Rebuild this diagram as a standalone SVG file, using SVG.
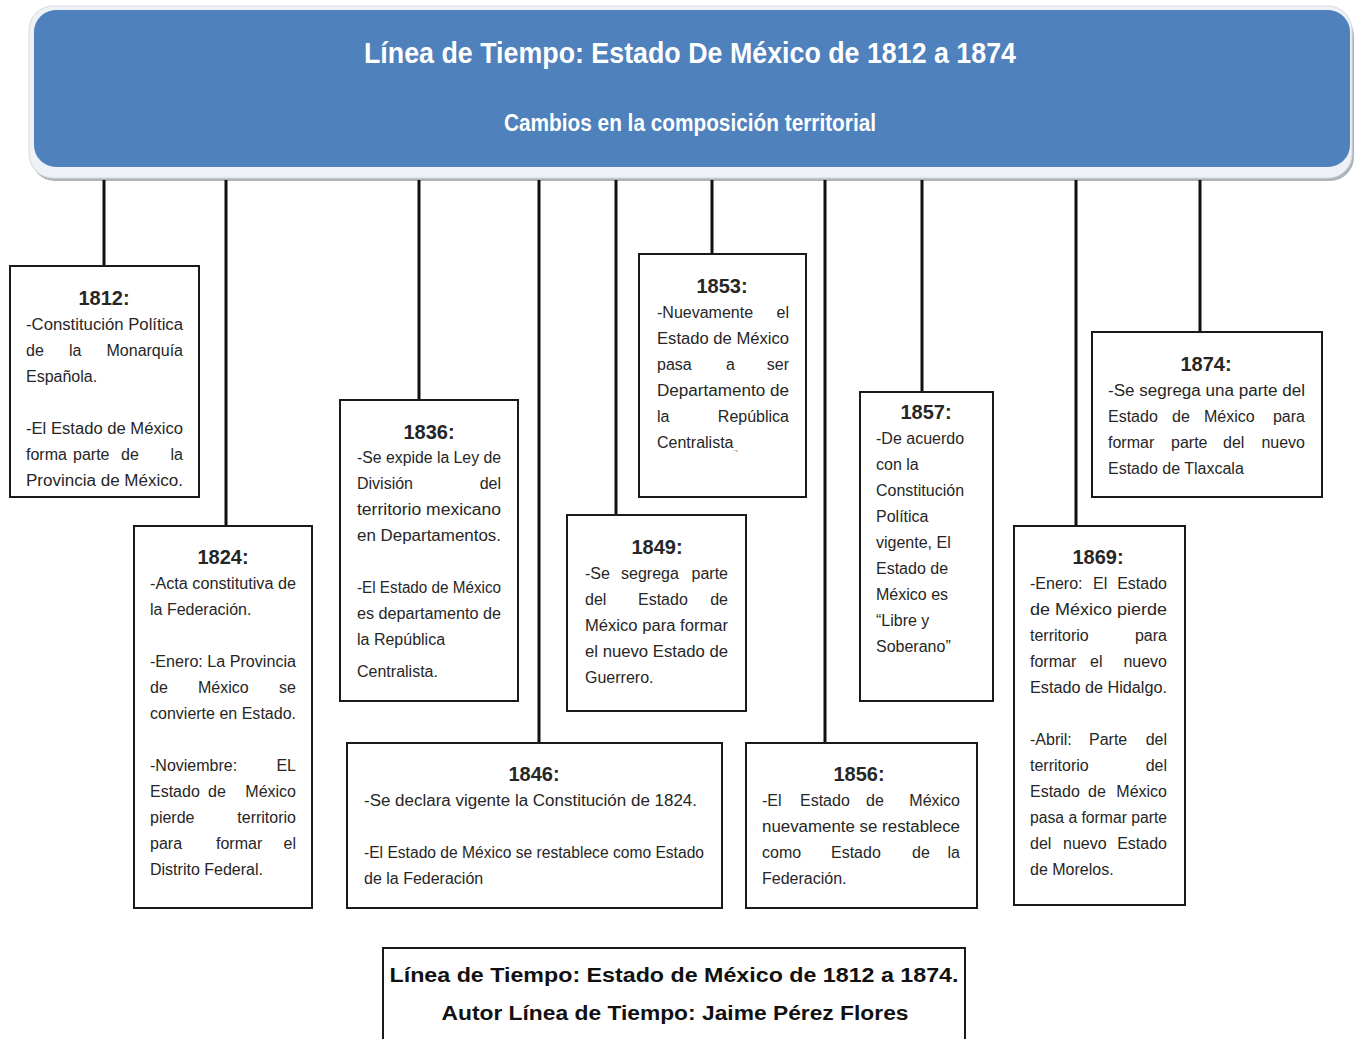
<svg xmlns="http://www.w3.org/2000/svg" width="1361" height="1039" viewBox="0 0 1361 1039">
<style>
.bx{fill:#fff;stroke:#1a1a1a;stroke-width:2}
.t{font-family:"Liberation Sans",Arial,sans-serif;font-size:16px;fill:#262626}
.e{text-anchor:end}
.y{font-family:"Liberation Sans",Arial,sans-serif;font-size:20px;font-weight:bold;fill:#262626;text-anchor:middle}
.f{font-family:"Liberation Sans",Arial,sans-serif;font-size:20px;font-weight:bold;fill:#111;text-anchor:middle}
.h{font-family:"Liberation Sans",Arial,sans-serif;fill:#fff;text-anchor:middle;font-weight:bold}
#connectors line{stroke:#111;stroke-width:3}
</style>
<rect width="1361" height="1039" fill="#fff"/>
<g id="header">
<rect x="31" y="12" width="1323" height="169" rx="24" fill="#aeb4bc"/>
<rect x="29" y="6" width="1323" height="172" rx="24" fill="#eef1f5" stroke="#d6dbe2"/>
<rect x="34" y="10" width="1316" height="157" rx="22" fill="#4f81bd"/>
<text class="h" x="690" y="63" font-size="30" textLength="652" lengthAdjust="spacingAndGlyphs">Línea de Tiempo: Estado De México de 1812 a 1874</text>
<text class="h" x="690" y="131" font-size="23" textLength="372" lengthAdjust="spacingAndGlyphs">Cambios en la composición territorial</text>
</g>
<g id="connectors">
<line x1="104" y1="180" x2="104" y2="266"/>
<line x1="226" y1="180" x2="226" y2="526"/>
<line x1="419" y1="180" x2="419" y2="400"/>
<line x1="539" y1="180" x2="539" y2="743"/>
<line x1="616" y1="180" x2="616" y2="524"/>
<line x1="712" y1="180" x2="712" y2="254"/>
<line x1="825" y1="180" x2="825" y2="743"/>
<line x1="922" y1="180" x2="922" y2="392"/>
<line x1="1076" y1="180" x2="1076" y2="526"/>
<line x1="1200" y1="180" x2="1200" y2="332"/>
</g>
<g id="n1812">
<rect class="bx" x="10" y="266" width="189" height="231"/>
<text class="y" x="104" y="305">1812:</text>
<text class="t" x="26" y="330" textLength="157" lengthAdjust="spacingAndGlyphs">-Constitución Política</text>
<text class="t" x="26" y="356">de</text><text class="t" x="69" y="356">la</text><text class="t e" x="183" y="356">Monarquía</text>
<text class="t" x="26" y="382">Española.</text>
<text class="t" x="26" y="434" textLength="157" lengthAdjust="spacingAndGlyphs">-El Estado de México</text>
<text class="t" x="26" y="460">forma</text><text class="t" x="73" y="460">parte</text><text class="t" x="121" y="460">de</text><text class="t e" x="183" y="460">la</text>
<text class="t" x="26" y="486" textLength="157" lengthAdjust="spacingAndGlyphs">Provincia de México.</text>
</g>
<g id="n1824">
<rect class="bx" x="134" y="526" width="178" height="382"/>
<text class="y" x="223" y="564">1824:</text>
<text class="t" x="150" y="589" textLength="146" lengthAdjust="spacingAndGlyphs">-Acta constitutiva de</text>
<text class="t" x="150" y="615">la Federación.</text>
<text class="t" x="150" y="667" textLength="146" lengthAdjust="spacingAndGlyphs">-Enero: La Provincia</text>
<text class="t" x="150" y="693">de</text><text class="t" x="198" y="693">México</text><text class="t e" x="296" y="693">se</text>
<text class="t" x="150" y="719" textLength="146" lengthAdjust="spacingAndGlyphs">convierte en Estado.</text>
<text class="t" x="150" y="771">-Noviembre:</text><text class="t e" x="296" y="771">EL</text>
<text class="t" x="150" y="797">Estado</text><text class="t" x="208" y="797">de</text><text class="t e" x="296" y="797">México</text>
<text class="t" x="150" y="823">pierde</text><text class="t e" x="296" y="823">territorio</text>
<text class="t" x="150" y="849">para</text><text class="t" x="216" y="849">formar</text><text class="t e" x="296" y="849">el</text>
<text class="t" x="150" y="875">Distrito Federal.</text>
</g>
<g id="n1836">
<rect class="bx" x="340" y="400" width="178" height="301"/>
<text class="y" x="429" y="439">1836:</text>
<text class="t" x="357" y="463" textLength="144" lengthAdjust="spacingAndGlyphs">-Se expide la Ley de</text>
<text class="t" x="357" y="489">División</text><text class="t e" x="501" y="489">del</text>
<text class="t" x="357" y="515" textLength="144" lengthAdjust="spacingAndGlyphs">territorio mexicano</text>
<text class="t" x="357" y="541" textLength="144" lengthAdjust="spacingAndGlyphs">en Departamentos.</text>
<text class="t" x="357" y="593" textLength="144" lengthAdjust="spacingAndGlyphs">-El Estado de México</text>
<text class="t" x="357" y="619" textLength="144" lengthAdjust="spacingAndGlyphs">es departamento de</text>
<text class="t" x="357" y="645">la República</text>
<text class="t" x="357" y="677">Centralista.</text>
</g>
<g id="n1853">
<rect class="bx" x="639" y="254" width="167" height="243"/>
<text class="y" x="722" y="293">1853:</text>
<text class="t" x="657" y="318">-Nuevamente</text><text class="t e" x="789" y="318">el</text>
<text class="t" x="657" y="344" textLength="132" lengthAdjust="spacingAndGlyphs">Estado de México</text>
<text class="t" x="657" y="370">pasa</text><text class="t" x="726" y="370">a</text><text class="t e" x="789" y="370">ser</text>
<text class="t" x="657" y="396" textLength="132" lengthAdjust="spacingAndGlyphs">Departamento de</text>
<text class="t" x="657" y="422">la</text><text class="t e" x="789" y="422">República</text>
<text class="t" x="657" y="448">Centralista<tspan font-size="8" dy="3">.,</tspan></text>
</g>
<g id="n1849">
<rect class="bx" x="567" y="515" width="179" height="196"/>
<text class="y" x="657" y="554">1849:</text>
<text class="t" x="585" y="579">-Se</text><text class="t" x="621" y="579">segrega</text><text class="t e" x="728" y="579">parte</text>
<text class="t" x="585" y="605">del</text><text class="t" x="638" y="605">Estado</text><text class="t e" x="728" y="605">de</text>
<text class="t" x="585" y="631" textLength="143" lengthAdjust="spacingAndGlyphs">México para formar</text>
<text class="t" x="585" y="657" textLength="143" lengthAdjust="spacingAndGlyphs">el nuevo Estado de</text>
<text class="t" x="585" y="683">Guerrero.</text>
</g>
<g id="n1846">
<rect class="bx" x="347" y="743" width="375" height="165"/>
<text class="y" x="534" y="781">1846:</text>
<text class="t" x="364" y="806" textLength="333" lengthAdjust="spacingAndGlyphs">-Se declara vigente la Constitución de 1824.</text>
<text class="t" x="364" y="858" textLength="340" lengthAdjust="spacingAndGlyphs">-El Estado de México se restablece como Estado</text>
<text class="t" x="364" y="884">de la Federación</text>
</g>
<g id="n1857">
<rect class="bx" x="860" y="392" width="133" height="309"/>
<text class="y" x="926" y="419">1857:</text>
<text class="t" x="876" y="444">-De acuerdo</text>
<text class="t" x="876" y="470">con la</text>
<text class="t" x="876" y="496">Constitución</text>
<text class="t" x="876" y="522">Política</text>
<text class="t" x="876" y="548">vigente, El</text>
<text class="t" x="876" y="574">Estado de</text>
<text class="t" x="876" y="600">México es</text>
<text class="t" x="876" y="626">“Libre y</text>
<text class="t" x="876" y="652">Soberano”</text>
</g>
<g id="n1856">
<rect class="bx" x="746" y="743" width="231" height="165"/>
<text class="y" x="859" y="781">1856:</text>
<text class="t" x="762" y="806">-El</text><text class="t" x="800" y="806">Estado</text><text class="t" x="866" y="806">de</text><text class="t e" x="960" y="806">México</text>
<text class="t" x="762" y="832" textLength="198" lengthAdjust="spacingAndGlyphs">nuevamente se restablece</text>
<text class="t" x="762" y="858">como</text><text class="t" x="831" y="858">Estado</text><text class="t" x="912" y="858">de</text><text class="t e" x="960" y="858">la</text>
<text class="t" x="762" y="884">Federación.</text>
</g>
<g id="n1869">
<rect class="bx" x="1014" y="526" width="171" height="379"/>
<text class="y" x="1098" y="564">1869:</text>
<text class="t" x="1030" y="589">-Enero:</text><text class="t" x="1093" y="589">El</text><text class="t e" x="1167" y="589">Estado</text>
<text class="t" x="1030" y="615" textLength="137" lengthAdjust="spacingAndGlyphs">de México pierde</text>
<text class="t" x="1030" y="641">territorio</text><text class="t e" x="1167" y="641">para</text>
<text class="t" x="1030" y="667">formar</text><text class="t" x="1090" y="667">el</text><text class="t e" x="1167" y="667">nuevo</text>
<text class="t" x="1030" y="693" textLength="137" lengthAdjust="spacingAndGlyphs">Estado de Hidalgo.</text>
<text class="t" x="1030" y="745">-Abril:</text><text class="t" x="1089" y="745">Parte</text><text class="t e" x="1167" y="745">del</text>
<text class="t" x="1030" y="771">territorio</text><text class="t e" x="1167" y="771">del</text>
<text class="t" x="1030" y="797">Estado</text><text class="t" x="1088" y="797">de</text><text class="t e" x="1167" y="797">México</text>
<text class="t" x="1030" y="823" textLength="137" lengthAdjust="spacingAndGlyphs">pasa a formar parte</text>
<text class="t" x="1030" y="849">del</text><text class="t" x="1063" y="849">nuevo</text><text class="t e" x="1167" y="849">Estado</text>
<text class="t" x="1030" y="875">de Morelos.</text>
</g>
<g id="n1874">
<rect class="bx" x="1092" y="332" width="230" height="165"/>
<text class="y" x="1206" y="371">1874:</text>
<text class="t" x="1108" y="396" textLength="197" lengthAdjust="spacingAndGlyphs">-Se segrega una parte del</text>
<text class="t" x="1108" y="422">Estado</text><text class="t" x="1172" y="422">de</text><text class="t" x="1204" y="422">México</text><text class="t e" x="1305" y="422">para</text>
<text class="t" x="1108" y="448">formar</text><text class="t" x="1171" y="448">parte</text><text class="t" x="1223" y="448">del</text><text class="t e" x="1305" y="448">nuevo</text>
<text class="t" x="1108" y="474">Estado de Tlaxcala</text>
</g>
<g id="footer">
<rect class="bx" x="383" y="948" width="582" height="110"/>
<text class="f" x="674" y="982" textLength="569" lengthAdjust="spacingAndGlyphs">Línea de Tiempo: Estado de México de 1812 a 1874.</text>
<text class="f" x="675" y="1020" textLength="467" lengthAdjust="spacingAndGlyphs">Autor Línea de Tiempo: Jaime Pérez Flores</text>
</g>
</svg>
